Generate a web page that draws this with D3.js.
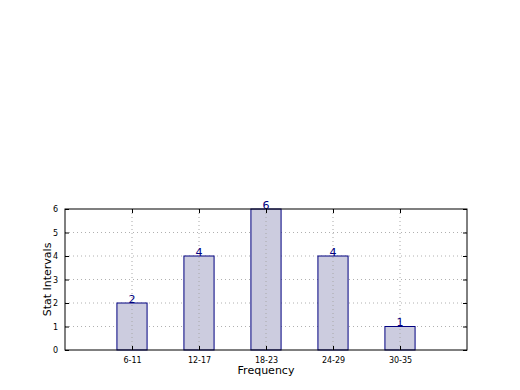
<!DOCTYPE html>
<html>
<head>
<meta charset="utf-8">
<script src="https://cdn.jsdelivr.net/npm/d3@7"></script>
<style>
  body { margin: 0; background: #fff; }
  text { font-family: "DejaVu Sans", sans-serif; }
</style>
</head>
<body>
<div class="chart"></div>
<script>
// chart data
var categories = ["6-11", "12-17", "18-23", "24-29", "30-35"];
var counts = [2, 4, 6, 4, 1];
var yTicks = [0, 1, 2, 3, 4, 5, 6];

var margin = ({top: 209, right: 53, bottom: 40, left: 65});
var width = 520 - margin.left - margin.right,
    height = 390 - margin.top - margin.bottom;

var svg = d3.select(".chart").append("svg")
    .attr("width", 520)
    .attr("height", 390)
    .append("g")
    .attr("transform", "translate(" + margin.left + "," + margin.top + ")");

// positions 1..n, domain padded by one slot each side
const xScale = d3.scaleLinear()
    .domain([0, categories.length + 1])
    .range([0, width]);

const yScale = d3.scaleLinear()
    .domain([0, 6])
    .range([height, 0]);

const barW = xScale(0.45) - xScale(0);

// horizontal grid
svg.append("g")
    .selectAll("line")
    .data(yTicks.slice(1, -1))
    .join("line")
    .attr("x1", 0).attr("x2", width)
    .attr("y1", d => yScale(d)).attr("y2", d => yScale(d))
    .attr("stroke", "#b0b0b0")
    .attr("stroke-dasharray", "1,3");

// bars
svg.selectAll(".bar")
    .data(counts)
    .join("rect")
    .attr("class", "bar")
    .attr("x", (d, i) => xScale(i + 1) - barW / 2)
    .attr("y", d => yScale(d))
    .attr("width", barW)
    .attr("height", d => height - yScale(d))
    .attr("fill", "#ccccdf")
    .attr("stroke", "#000080")
    .attr("stroke-width", 1);

// vertical grid drawn over bars
svg.append("g")
    .selectAll("line")
    .data(categories)
    .join("line")
    .attr("x1", (d, i) => xScale(i + 1)).attr("x2", (d, i) => xScale(i + 1))
    .attr("y1", 0).attr("y2", height)
    .attr("stroke", "#a8a8a8")
    .attr("stroke-dasharray", "1,3");

// value labels
svg.selectAll(".val")
    .data(counts)
    .join("text")
    .attr("class", "val")
    .attr("x", (d, i) => xScale(i + 1))
    .attr("y", d => yScale(d) - 0.5)
    .attr("text-anchor", "middle")
    .attr("font-size", 11)
    .attr("fill", "#000080")
    .text(d => d);

// axes
const xAxis = d3.axisBottom(xScale)
    .tickValues(categories.map((d, i) => i + 1))
    .tickFormat((d) => categories[d - 1])
    .tickSizeInner(-4).tickSizeOuter(0).tickPadding(7);

svg.append("g")
    .attr("class", "axis x-axis")
    .attr("transform", `translate(0, ${height})`)
    .call(xAxis);

const yAxis = d3.axisLeft(yScale)
    .tickValues(yTicks)
    .tickFormat(d3.format("d"))
    .tickSizeInner(-4).tickSizeOuter(0).tickPadding(7);

svg.append("g")
    .attr("class", "axis y-axis")
    .call(yAxis);

// right and top ticks
svg.append("g")
    .attr("transform", `translate(${width}, 0)`)
    .call(d3.axisRight(yScale).tickValues(yTicks).tickSizeInner(-4).tickSizeOuter(0).tickFormat(""));

svg.append("g")
    .call(d3.axisTop(xScale).tickValues(categories.map((d, i) => i + 1)).tickSizeInner(-4).tickSizeOuter(0).tickFormat(""));

svg.selectAll(".domain").remove();
svg.selectAll(".tick text").attr("font-size", 8).attr("fill", "#000");
svg.selectAll(".tick line").attr("stroke", "#000");

// frame
svg.append("rect")
    .attr("width", width).attr("height", height)
    .attr("fill", "none")
    .attr("stroke", "#000");

svg.append("text")
    .attr("x", width / 2)
    .attr("y", height + 24)
    .attr("text-anchor", "middle")
    .attr("font-size", 11)
    .text("Frequency");

svg.append("text")
    .attr("transform", `translate(-14, ${height / 2}) rotate(-90)`)
    .attr("text-anchor", "middle")
    .attr("font-size", 11)
    .text("Stat Intervals");
</script>
</body>
</html>
